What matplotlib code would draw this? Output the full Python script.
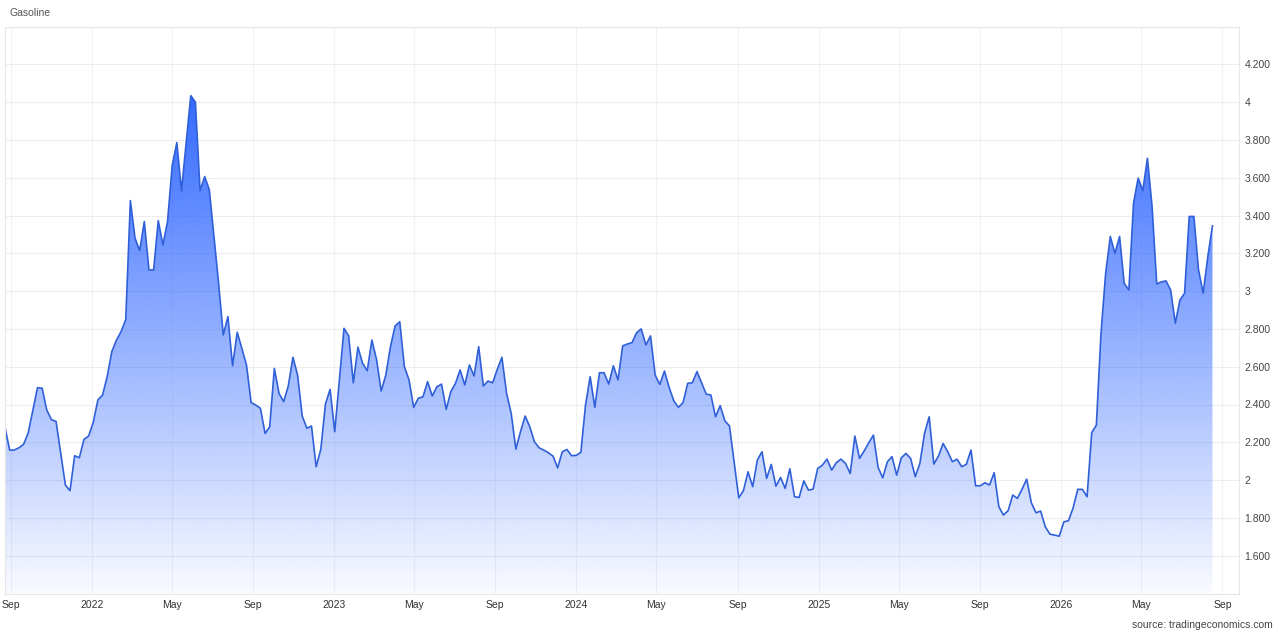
import matplotlib
matplotlib.use('Agg')
import matplotlib.pyplot as plt
import matplotlib.dates as mdates
from matplotlib.patches import Polygon
import numpy as np
import pandas as pd

plt.rcParams['font.family'] = ['Liberation Sans', 'DejaVu Sans']

# weekly gasoline price
start_date = '2021-08-23'
prices = [
    2.279, 2.159, 2.159, 2.171, 2.189, 2.250, 2.370, 2.489, 2.486, 2.370,
    2.320, 2.310, 2.140, 1.974, 1.944, 2.129, 2.118, 2.215, 2.233, 2.305,
    2.424, 2.450, 2.547, 2.680, 2.741, 2.786, 2.850, 3.479, 3.280, 3.214,
    3.368, 3.112, 3.112, 3.373, 3.244, 3.368, 3.663, 3.786, 3.530, 3.783,
    4.034, 4.000, 3.532, 3.606, 3.536, 3.289, 3.040, 2.768, 2.865, 2.605,
    2.782, 2.697, 2.609, 2.410, 2.397, 2.380, 2.247, 2.282, 2.591, 2.459,
    2.415, 2.498, 2.650, 2.556, 2.339, 2.274, 2.286, 2.071, 2.162, 2.402,
    2.480, 2.256, 2.530, 2.803, 2.763, 2.515, 2.703, 2.618, 2.579, 2.741,
    2.639, 2.471, 2.556, 2.706, 2.816, 2.838, 2.600, 2.530, 2.385, 2.433,
    2.441, 2.521, 2.445, 2.494, 2.508, 2.374, 2.468, 2.512, 2.583, 2.503,
    2.609, 2.551, 2.706, 2.498, 2.524, 2.515, 2.586, 2.650, 2.459, 2.353,
    2.164, 2.256, 2.339, 2.282, 2.203, 2.171, 2.159, 2.145, 2.127, 2.065,
    2.150, 2.162, 2.129, 2.131, 2.147, 2.397, 2.547, 2.385, 2.568, 2.568,
    2.508, 2.605, 2.530, 2.710, 2.720, 2.727, 2.780, 2.800, 2.715, 2.763,
    2.556, 2.506, 2.577, 2.491, 2.420, 2.385, 2.410, 2.512, 2.515, 2.574,
    2.515, 2.455, 2.450, 2.335, 2.394, 2.314, 2.286, 2.097, 1.906, 1.944,
    2.044, 1.965, 2.106, 2.150, 2.009, 2.083, 1.968, 2.014, 1.956, 2.060,
    1.912, 1.908, 1.996, 1.947, 1.952, 2.062, 2.079, 2.111, 2.053, 2.092,
    2.111, 2.088, 2.035, 2.233, 2.115, 2.154, 2.198, 2.238, 2.067, 2.012,
    2.097, 2.124, 2.026, 2.118, 2.141, 2.115, 2.018, 2.088, 2.247, 2.335,
    2.085, 2.127, 2.194, 2.150, 2.097, 2.111, 2.071, 2.083, 2.159, 1.970,
    1.970, 1.986, 1.974, 2.039, 1.859, 1.815, 1.838, 1.921, 1.903, 1.952,
    2.005, 1.880, 1.827, 1.836, 1.753, 1.714, 1.709, 1.703, 1.779, 1.785,
    1.853, 1.951, 1.951, 1.912, 2.251, 2.291, 2.777, 3.094, 3.289, 3.200,
    3.289, 3.041, 3.006, 3.465, 3.598, 3.532, 3.703, 3.447, 3.038, 3.049,
    3.054, 3.006, 2.830, 2.953, 2.989, 3.395, 3.395, 3.112, 2.989, 3.183,
    3.345,
]

x_tick_dates = ['2021-09-01', '2022-01-01', '2022-05-01', '2022-09-01',
                '2023-01-01', '2023-05-01', '2023-09-01', '2024-01-01',
                '2024-05-01', '2024-09-01', '2025-01-01', '2025-05-01',
                '2025-09-01', '2026-01-01', '2026-05-01', '2026-09-01']
x_tick_labels = ['Sep', '2022', 'May', 'Sep', '2023', 'May', 'Sep', '2024',
                 'May', 'Sep', '2025', 'May', 'Sep', '2026', 'May', 'Sep']
y_ticks = [1.6, 1.8, 2.0, 2.2, 2.4, 2.6, 2.8, 3.0, 3.2, 3.4, 3.6, 3.8, 4.0, 4.2]
y_tick_labels = ['1.600', '1.800', '2', '2.200', '2.400', '2.600', '2.800',
                 '3', '3.200', '3.400', '3.600', '3.800', '4', '4.200']

dates = pd.date_range(start_date, periods=len(prices), freq='7D')
xs = mdates.date2num(dates)
vals = np.array(prices)

ybot, ytop = 1.4, 4.4
blue = np.array([41, 98, 255]) / 255

fig = plt.figure(figsize=(12.8, 6.33), dpi=100)
ax = fig.add_axes([5 / 1280, 1 - 593.5 / 633, 1234 / 1280, 567 / 633])
ax.set_axisbelow(True)

# gradient fill under the line
verts = [(xs[0], ybot)] + list(zip(xs, vals)) + [(xs[-1], ybot)]
clip = Polygon(verts, closed=True, facecolor='none', edgecolor='none')
ax.add_patch(clip)
n = 256
grad = np.zeros((n, 1, 4))
grad[:, 0, :3] = blue
grad[:, 0, 3] = np.linspace(0.03, 0.95, n)
im = ax.imshow(grad, extent=[xs[0], xs[-1], ybot, vals.max()], origin='lower',
               aspect='auto', interpolation='bilinear', zorder=1)
im.set_clip_path(clip)

ax.plot(xs, vals, color='#3060d8', lw=1.2, zorder=2)

ax.set_xlim(mdates.date2num(pd.Timestamp('2021-08-23')),
            mdates.date2num(pd.Timestamp('2026-09-26')))
ax.set_ylim(ybot, ytop)

ax.set_xticks(mdates.date2num(pd.to_datetime(x_tick_dates)))
ax.set_xticklabels(x_tick_labels)
ax.set_yticks(y_ticks)
ax.set_yticklabels(y_tick_labels)
ax.yaxis.tick_right()
ax.tick_params(axis='both', length=0, labelsize=7.5, colors='#333333')
ax.tick_params(axis='x', pad=5)
ax.tick_params(axis='y', pad=4, labelcolor='#444444')
ax.grid(True, axis='y', color='#ededed', lw=0.8)
ax.grid(True, axis='x', color='#f2f2f2', lw=0.8)
for s in ax.spines.values():
    s.set_color('#e6e6e6')
    s.set_linewidth(0.8)

fig.text(10 / 1280, 1 - 13 / 633, 'Gasoline', fontsize=7.5, color='#555555',
         va='center', ha='left')
fig.text(1273 / 1280, 1 - 625 / 633, 'source: tradingeconomics.com', fontsize=7.5,
         color='#444444', va='center', ha='right')

fig.savefig('out.png', dpi=100)
